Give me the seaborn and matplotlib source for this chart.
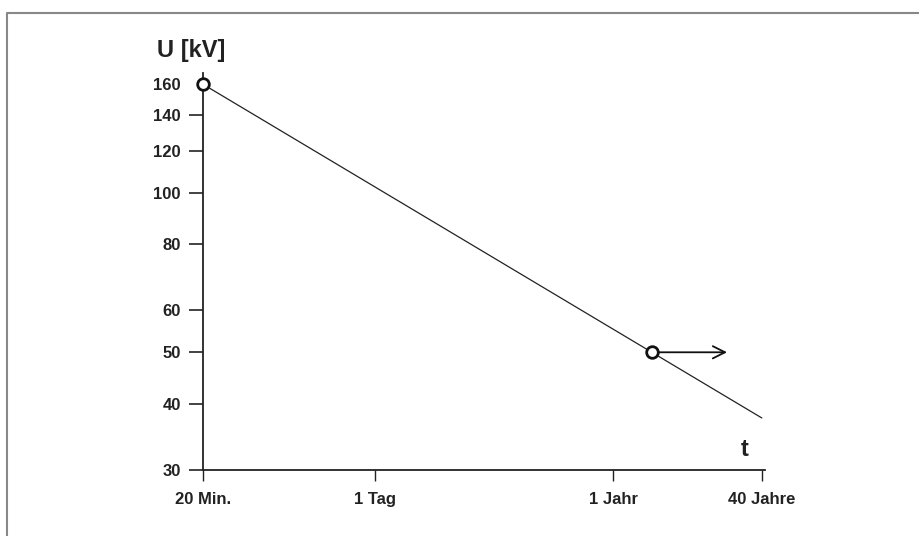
import pandas as pd
import matplotlib.pyplot as plt
import matplotlib.lines as mlines
import seaborn as sns

# time axis in minutes
MIN_PER_DAY = 60 * 24
MIN_PER_YEAR = 525600

line_t = [20, 40 * MIN_PER_YEAR]
line_u = [160, 37.6]

point_t = [20, 1.377e6]
point_u = [160, 50]

arrow_start = (1.377e6, 50)
arrow_end = (8.87e6, 50)

x_ticks = [20, MIN_PER_DAY, MIN_PER_YEAR, 40 * MIN_PER_YEAR]
x_labels = ["20 Min.", "1 Tag", "1 Jahr", "40 Jahre"]
y_ticks = [30, 40, 50, 60, 80, 100, 120, 140, 160]

sns.set_style("white")
plt.rcParams['font.family'] = ['Liberation Sans', 'DejaVu Sans']

fig = plt.figure(figsize=(9.19, 5.36), dpi=100)
ax = fig.add_axes([203 / 919, 66 / 536, 562 / 919, 397 / 536])

df_line = pd.DataFrame({"t": line_t, "U": line_u})
df_pts = pd.DataFrame({"t": point_t, "U": point_u})

sns.lineplot(data=df_line, x="t", y="U", color="#222222", linewidth=0.9, ax=ax)
ax.annotate("", xy=arrow_end, xytext=arrow_start,
            arrowprops=dict(arrowstyle="->", color="#111111", lw=1.3,
                            mutation_scale=22, shrinkA=0, shrinkB=0))
sns.scatterplot(data=df_pts, x="t", y="U", s=70, facecolor="white",
                edgecolor="#111111", linewidth=2.0, zorder=5, ax=ax, clip_on=False)

ax.set_xscale("log")
ax.set_yscale("log")
ax.set_xlim(20, 2.275e7)
ax.set_ylim(30, 168)
ax.set_xticks(x_ticks)
ax.set_xticklabels(x_labels)
ax.set_yticks(y_ticks)
ax.set_yticklabels([str(v) for v in y_ticks])
ax.minorticks_off()
ax.set_xlabel("")
ax.set_ylabel("")

for s in ["top", "right"]:
    ax.spines[s].set_visible(False)
for s in ["left", "bottom"]:
    ax.spines[s].set_color("#222222")
    ax.spines[s].set_linewidth(1.3)

ax.tick_params(axis="y", left=True, direction="out", length=10, width=1.2, pad=6,
               labelsize=12, color="#222222")
ax.tick_params(axis="x", bottom=True, direction="out", length=8, width=1.0, pad=8,
               labelsize=12, color="#222222")
for lab in ax.get_xticklabels() + ax.get_yticklabels():
    lab.set_fontweight("bold")
    lab.set_color("#222222")
# the 160 tick sits under the start marker in the original
ax.yaxis.get_major_ticks()[-1].tick1line.set_visible(False)

fig.text(157 / 919, 1 - 51 / 536, "U [kV]", fontsize=17, fontweight="bold",
         va="center", ha="left", color="#222222")
fig.text(745 / 919, 1 - 450 / 536, "t", fontsize=17, fontweight="bold",
         va="center", ha="center", color="#222222")

# scanned page frame
fig.add_artist(mlines.Line2D([6.5 / 919, 6.5 / 919, 1], [0, 1 - 13 / 536, 1 - 13 / 536],
                             color="#888888", linewidth=1.5))

fig.savefig("out.png", dpi=100)
